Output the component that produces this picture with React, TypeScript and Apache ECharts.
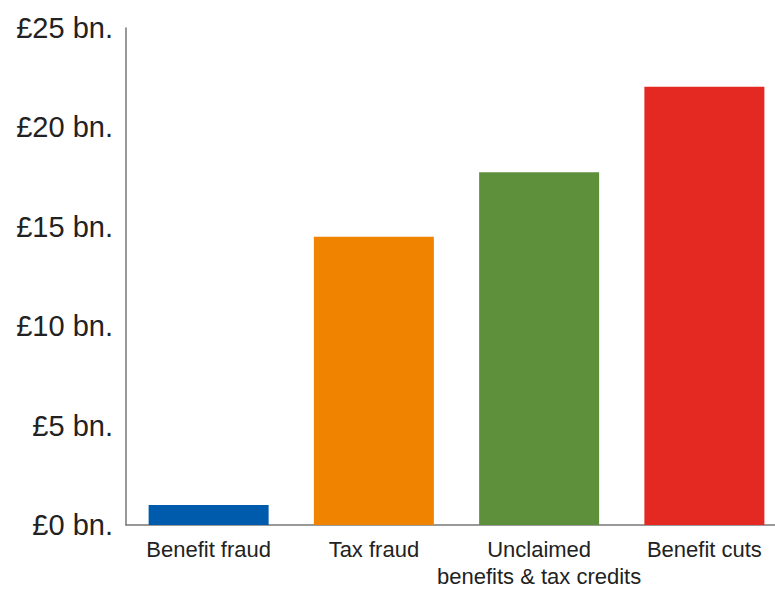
import React, { useEffect, useRef } from "react";
import * as echarts from "echarts";

const categories = [
  "Benefit fraud",
  "Tax fraud",
  "Unclaimed\nbenefits & tax credits",
  "Benefit cuts",
];
const valuesBn = [1.0, 14.5, 17.75, 22.05];
const barColors = ["#005BAC", "#F08400", "#5E8F3B", "#E32922"];
const yTicks = [0, 5, 10, 15, 20, 25];

const FONT = "'Liberation Sans', Arial, Helvetica, sans-serif";

export default function App() {
  const ref = useRef<HTMLDivElement>(null);

  useEffect(() => {
    if (!ref.current) return;
    const chart = echarts.init(ref.current, undefined, { renderer: "svg" });
    chart.setOption({
      animation: false,
      backgroundColor: "#ffffff",
      grid: { left: 126, right: 0, top: 28, bottom: 62, containLabel: false },
      xAxis: {
        type: "category",
        data: categories,
        axisLine: { show: true, lineStyle: { color: "#777777", width: 1.5 } },
        axisTick: { show: false },
        axisLabel: {
          color: "#222222",
          fontFamily: FONT,
          fontSize: 22,
          lineHeight: 27,
          margin: 11,
          interval: 0,
        },
      },
      yAxis: {
        type: "value",
        min: yTicks[0],
        max: yTicks[yTicks.length - 1],
        interval: 5,
        axisLine: { show: true, lineStyle: { color: "#777777", width: 1.5 } },
        axisTick: { show: false },
        splitLine: { show: false },
        axisLabel: {
          color: "#222222",
          fontFamily: FONT,
          fontSize: 29,
          margin: 13,
          formatter: (v: number) => `£${v} bn.`,
        },
      },
      series: [
        {
          type: "bar",
          data: valuesBn.map((v, i) => ({ value: v, itemStyle: { color: barColors[i] } })),
          barWidth: 120,
        },
      ],
    });
    return () => chart.dispose();
  }, []);

  // The plot runs slightly past the right edge, so the chart is wider than its frame.
  return (
    <div
      style={{
        position: "absolute",
        left: 0,
        top: 0,
        width: 775,
        height: 590,
        overflow: "hidden",
        background: "#ffffff",
      }}
    >
      <div ref={ref} style={{ width: 787, height: 590 }} />
    </div>
  );
}
